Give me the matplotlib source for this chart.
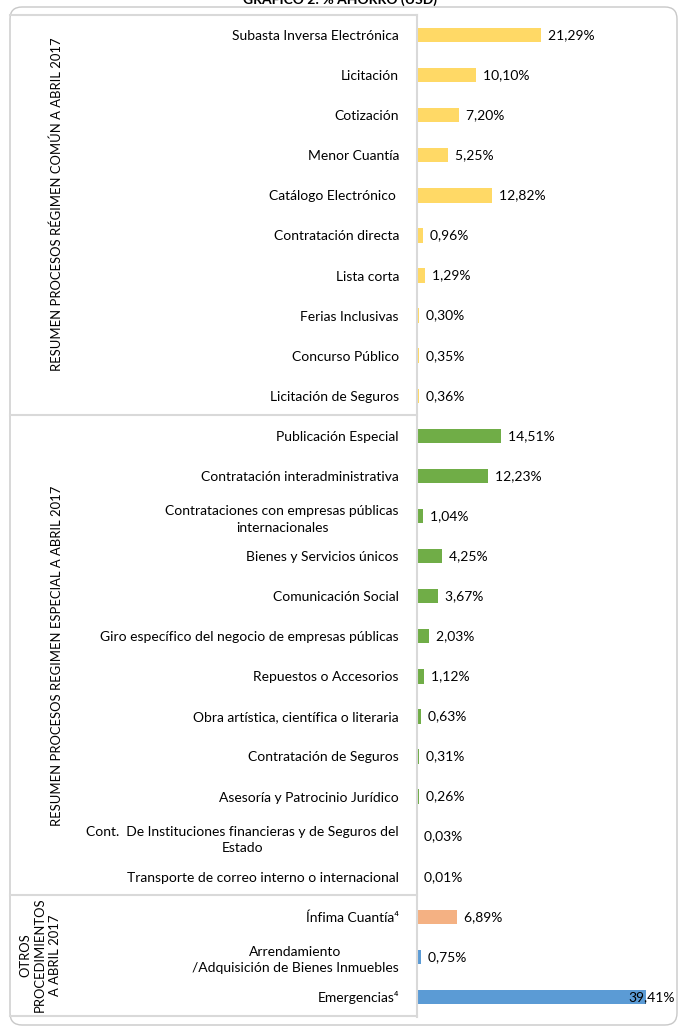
import matplotlib.pyplot as plt
from matplotlib.patches import FancyBboxPatch
from matplotlib.lines import Line2D

plt.rcParams['font.family'] = ['Lato', 'DejaVu Sans']

# --- datos ---
categorias = [
    "Subasta Inversa Electrónica", "Licitación", "Cotización", "Menor Cuantía",
    "Catálogo Electrónico ", "Contratación directa", "Lista corta",
    "Ferias Inclusivas", "Concurso Público", "Licitación de Seguros",
    "Publicación Especial", "Contratación interadministrativa",
    "Contrataciones con empresas públicas\ninternacionales",
    "Bienes y Servicios únicos", "Comunicación Social",
    "Giro específico del negocio de empresas públicas",
    "Repuestos o Accesorios", "Obra artística, científica o literaria",
    "Contratación de Seguros", "Asesoría y Patrocinio Jurídico",
    "Cont.  De Instituciones financieras y de Seguros del\nEstado",
    "Transporte de correo interno o internacional",
    "Ínfima Cuantía⁴", "Arrendamiento\n/Adquisición de Bienes Inmuebles",
    "Emergencias⁴",
]
valores = [21.29, 10.10, 7.20, 5.25, 12.82, 0.96, 1.29, 0.30, 0.35, 0.36,
           14.51, 12.23, 1.04, 4.25, 3.67, 2.03, 1.12, 0.63, 0.31, 0.26,
           0.03, 0.01,
           6.89, 0.75, 39.41]
grupo = ["comun"] * 10 + ["especial"] * 12 + ["infima", "otros", "otros"]
colores_grupo = {"comun": "#FFD966", "especial": "#70AD47",
                 "infima": "#F4B183", "otros": "#5B9BD5"}
grupos_titulo = ["RESUMEN PROCESOS RÉGIMEN COMÚN A ABRIL 2017",
                 "RESUMEN PROCESOS REGIMEN ESPECIAL A ABRIL 2017",
                 "OTROS\nPROCEDIMIENTOS\nA ABRIL 2017"]

W, H = 683, 1030
fs = 10
fig = plt.figure(figsize=(W / 100, H / 100), dpi=100)

# marco redondeado
fig.patches.append(FancyBboxPatch((0.10, 0.05), 6.67, 10.18,
                                  boxstyle="round,pad=0,rounding_size=0.12",
                                  transform=fig.dpi_scale_trans,
                                  fill=False, ec="#C8C8C8", lw=1.0))

ax = fig.add_axes([417 / W, 1 - 1017 / H, (677 - 417) / W, (1017 - 15) / H])
n = len(categorias)
y = list(range(n))
ax.barh(y, valores, height=0.36, color=[colores_grupo[g] for g in grupo])
ax.set_ylim(n - 0.5, -0.5)
xmax = 44.7
ax.set_xlim(0, xmax)
ax.set_yticks(y)
ax.set_yticklabels(categorias, fontsize=fs)
for t in ax.get_yticklabels():
    t.set_multialignment('center')
    t.set_linespacing(1.45)
ax.tick_params(axis='y', length=0, pad=13)
ax.set_xticks([])
for s in ['top', 'right', 'bottom']:
    ax.spines[s].set_visible(False)
ax.spines['left'].set_color('#D9D9D9')
ax.spines['left'].set_linewidth(1.5)

for i, v in enumerate(valores):
    txt = f"{v:.2f}".replace('.', ',') + "%"
    if v > 35:
        ax.text(xmax - 0.3, i, txt, ha='right', va='center', fontsize=fs)
    else:
        ax.text(v, i, "  " + txt, ha='left', va='center', fontsize=fs)

# lineas de la zona de categorias
gris = '#D9D9D9'
for ypx in [15, 415, 895, 1016]:
    fig.add_artist(Line2D([10 / W, 417 / W], [1 - ypx / H] * 2, color=gris, lw=1.5))

# titulos de grupo
fs_g = 9.4
fig.text(57 / W, 1 - 204 / H, grupos_titulo[0], rotation=90, ha='center', va='center', fontsize=fs_g)
fig.text(57 / W, 1 - 656 / H, grupos_titulo[1], rotation=90, ha='center', va='center', fontsize=fs_g)
fig.text(40 / W, 1 - 955 / H, grupos_titulo[2], rotation=90, ha='center', va='center',
         fontsize=fs_g, multialignment='center', linespacing=1.3)

# titulo (cortado arriba, como en el original)
fig.text(340 / W, 1 - 4 / H, "GRÁFICO 2: % AHORRO (USD)", ha='center', va='baseline',
         fontsize=10, fontweight='bold')

fig.savefig("out.png", dpi=100)
